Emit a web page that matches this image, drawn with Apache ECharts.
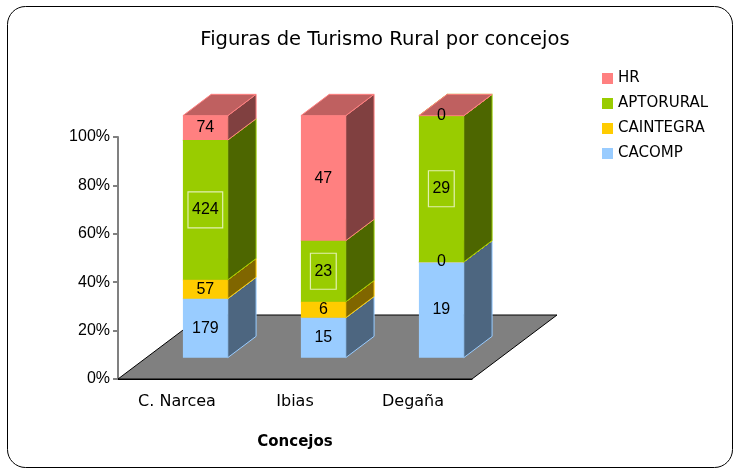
<!DOCTYPE html>
<html>
<head>
<meta charset="utf-8">
<script src="https://cdn.jsdelivr.net/npm/echarts@6/dist/echarts.min.js"></script>
<style>
  html, body { margin: 0; padding: 0; background: #fff; }
  #chart { width: 736px; height: 471px; }
</style>
</head>
<body>
<div id="chart"></div>
<script>
// datos por concejo
const concejos = ['C. Narcea', 'Ibias', 'Degaña'];
const cacomp = [179, 15, 19];
const caintegra = [57, 6, 0];
const aptorural = [424, 23, 29];
const hr = [74, 47, 0];

const seriesNames = ['CACOMP', 'CAINTEGRA', 'APTORURAL', 'HR'];
const seriesValues = [cacomp, caintegra, aptorural, hr];
const frontColors = ['#99CCFF', '#FFCC00', '#99CC00', '#FF8080'];
const sideColors = ['#4D6680', '#806600', '#4D6600', '#804040'];
const topColors = ['#7399BF', '#BF9900', '#739900', '#BF6060'];

const FONT = '"Century Gothic", "DejaVu Sans", sans-serif';
const NUM_FONT = '"Liberation Sans", Arial, sans-serif';
const FLOOR_DX = 85;
const FLOOR_DY = 64;
const BAR_DX = FLOOR_DX / 3;
const BAR_DY = FLOOR_DY / 3;

// 100% apilado
const totals = concejos.map((_, i) => seriesValues.reduce((s, arr) => s + arr[i], 0));
const segments = seriesValues.map(() => []);
concejos.forEach((_, i) => {
  let base = 0;
  seriesValues.forEach((arr, s) => {
    const pct = totals[i] ? arr[i] / totals[i] * 100 : 0;
    segments[s].push([i, base, base + pct, arr[i], s]);
    base += pct;
  });
});
const labelData = [].concat(...segments);

function renderBar(params, api) {
  const s = api.value(4);
  const lo = api.coord([api.value(0), api.value(1)]);
  const hi = api.coord([api.value(0), api.value(2)]);
  const w = api.size([1, 0])[0] * 0.38;
  const x0 = lo[0] - w / 2 + BAR_DX;
  const x1 = x0 + w;
  const yb = lo[1] - BAR_DY;
  const yt = hi[1] - BAR_DY;
  return {
    type: 'group',
    children: [
      { type: 'rect', shape: { x: x0, y: yt, width: w, height: yb - yt },
        style: { fill: frontColors[s] } },
      { type: 'polygon',
        shape: { points: [[x1, yb], [x1 + BAR_DX, yb - BAR_DY], [x1 + BAR_DX, yt - BAR_DY], [x1, yt]] },
        style: { fill: sideColors[s], stroke: frontColors[s], lineWidth: 1 } },
      { type: 'polygon',
        shape: { points: [[x0, yt], [x1, yt], [x1 + BAR_DX, yt - BAR_DY], [x0 + BAR_DX, yt - BAR_DY]] },
        style: { fill: topColors[s], stroke: frontColors[s], lineWidth: 1 } }
    ]
  };
}

function renderLabel(params, api) {
  const s = api.value(4);
  const lo = api.coord([api.value(0), api.value(1)]);
  const hi = api.coord([api.value(0), api.value(2)]);
  const boxed = seriesNames[s] === 'APTORURAL';
  return {
    type: 'text',
    style: {
      text: String(api.value(3)),
      x: lo[0] + BAR_DX,
      y: (lo[1] + hi[1]) / 2 - BAR_DY,
      align: 'center',
      verticalAlign: 'middle',
      fill: '#000',
      font: '16px ' + NUM_FONT,
      borderColor: boxed ? '#E2F0B0' : null,
      borderWidth: boxed ? 1.2 : 0,
      padding: boxed ? [10, 4] : 0
    }
  };
}

function renderFloor(params) {
  const c = params.coordSys;
  const yb = c.y + c.height;
  return {
    type: 'polygon',
    shape: { points: [[c.x, yb], [c.x + c.width, yb], [c.x + c.width + FLOOR_DX, yb - FLOOR_DY], [c.x + FLOOR_DX, yb - FLOOR_DY]] },
    style: { fill: '#808080', stroke: '#000', lineWidth: 1 }
  };
}

const chart = echarts.init(document.getElementById('chart'));

chart.setOption({
  animation: false,
  title: {
    text: 'Figuras de Turismo Rural por concejos',
    left: 380,
    top: 25,
    textAlign: 'center',
    textStyle: { fontFamily: FONT, fontWeight: 'normal', fontSize: 19.5, color: '#000' }
  },
  legend: {
    data: ['HR', 'APTORURAL', 'CAINTEGRA', 'CACOMP'],
    orient: 'vertical',
    left: 597,
    top: 66,
    itemWidth: 11,
    itemHeight: 11,
    itemGap: 10,
    icon: 'rect',
    textStyle: { fontFamily: FONT, fontSize: 15, color: '#000', padding: [1, 0, 0, 0] }
  },
  grid: { left: 118, top: 137, width: 354, height: 242 },
  xAxis: {
    type: 'category',
    data: concejos,
    name: 'Concejos',
    nameLocation: 'middle',
    nameGap: 56,
    nameTextStyle: { fontFamily: FONT, fontWeight: 'bold', fontSize: 15, color: '#000' },
    axisLine: { lineStyle: { color: '#000', width: 1 } },
    axisTick: { length: 6, lineStyle: { color: '#808080', width: 2 } },
    axisLabel: { fontFamily: FONT, fontSize: 16, color: '#000', margin: 15 }
  },
  yAxis: {
    type: 'value',
    min: 0,
    max: 100,
    interval: 20,
    axisLine: { show: true, lineStyle: { color: '#808080', width: 2 } },
    axisTick: { show: true, length: 5, lineStyle: { color: '#808080', width: 2 } },
    splitLine: { show: false },
    axisLabel: { formatter: '{value}%', fontFamily: NUM_FONT, fontSize: 16, color: '#000', margin: 8 }
  },
  graphic: [{
    type: 'rect',
    shape: { x: 7.5, y: 6.5, width: 725, height: 461, r: 18 },
    style: { fill: 'none', stroke: '#000', lineWidth: 1 },
    silent: true
  }],
  series: [
    { type: 'custom', name: 'floor', z: 1, silent: true, renderItem: renderFloor, data: [[0, 0]] },
    ...seriesNames.map((name, s) => ({
      type: 'custom',
      name: name,
      z: 2,
      itemStyle: { color: frontColors[s] },
      renderItem: renderBar,
      encode: { x: 0, y: [1, 2] },
      data: segments[s]
    })),
    { type: 'custom', name: 'labels', z: 10, silent: true, renderItem: renderLabel,
      encode: { x: 0, y: [1, 2] }, data: labelData }
  ]
});
</script>
</body>
</html>
